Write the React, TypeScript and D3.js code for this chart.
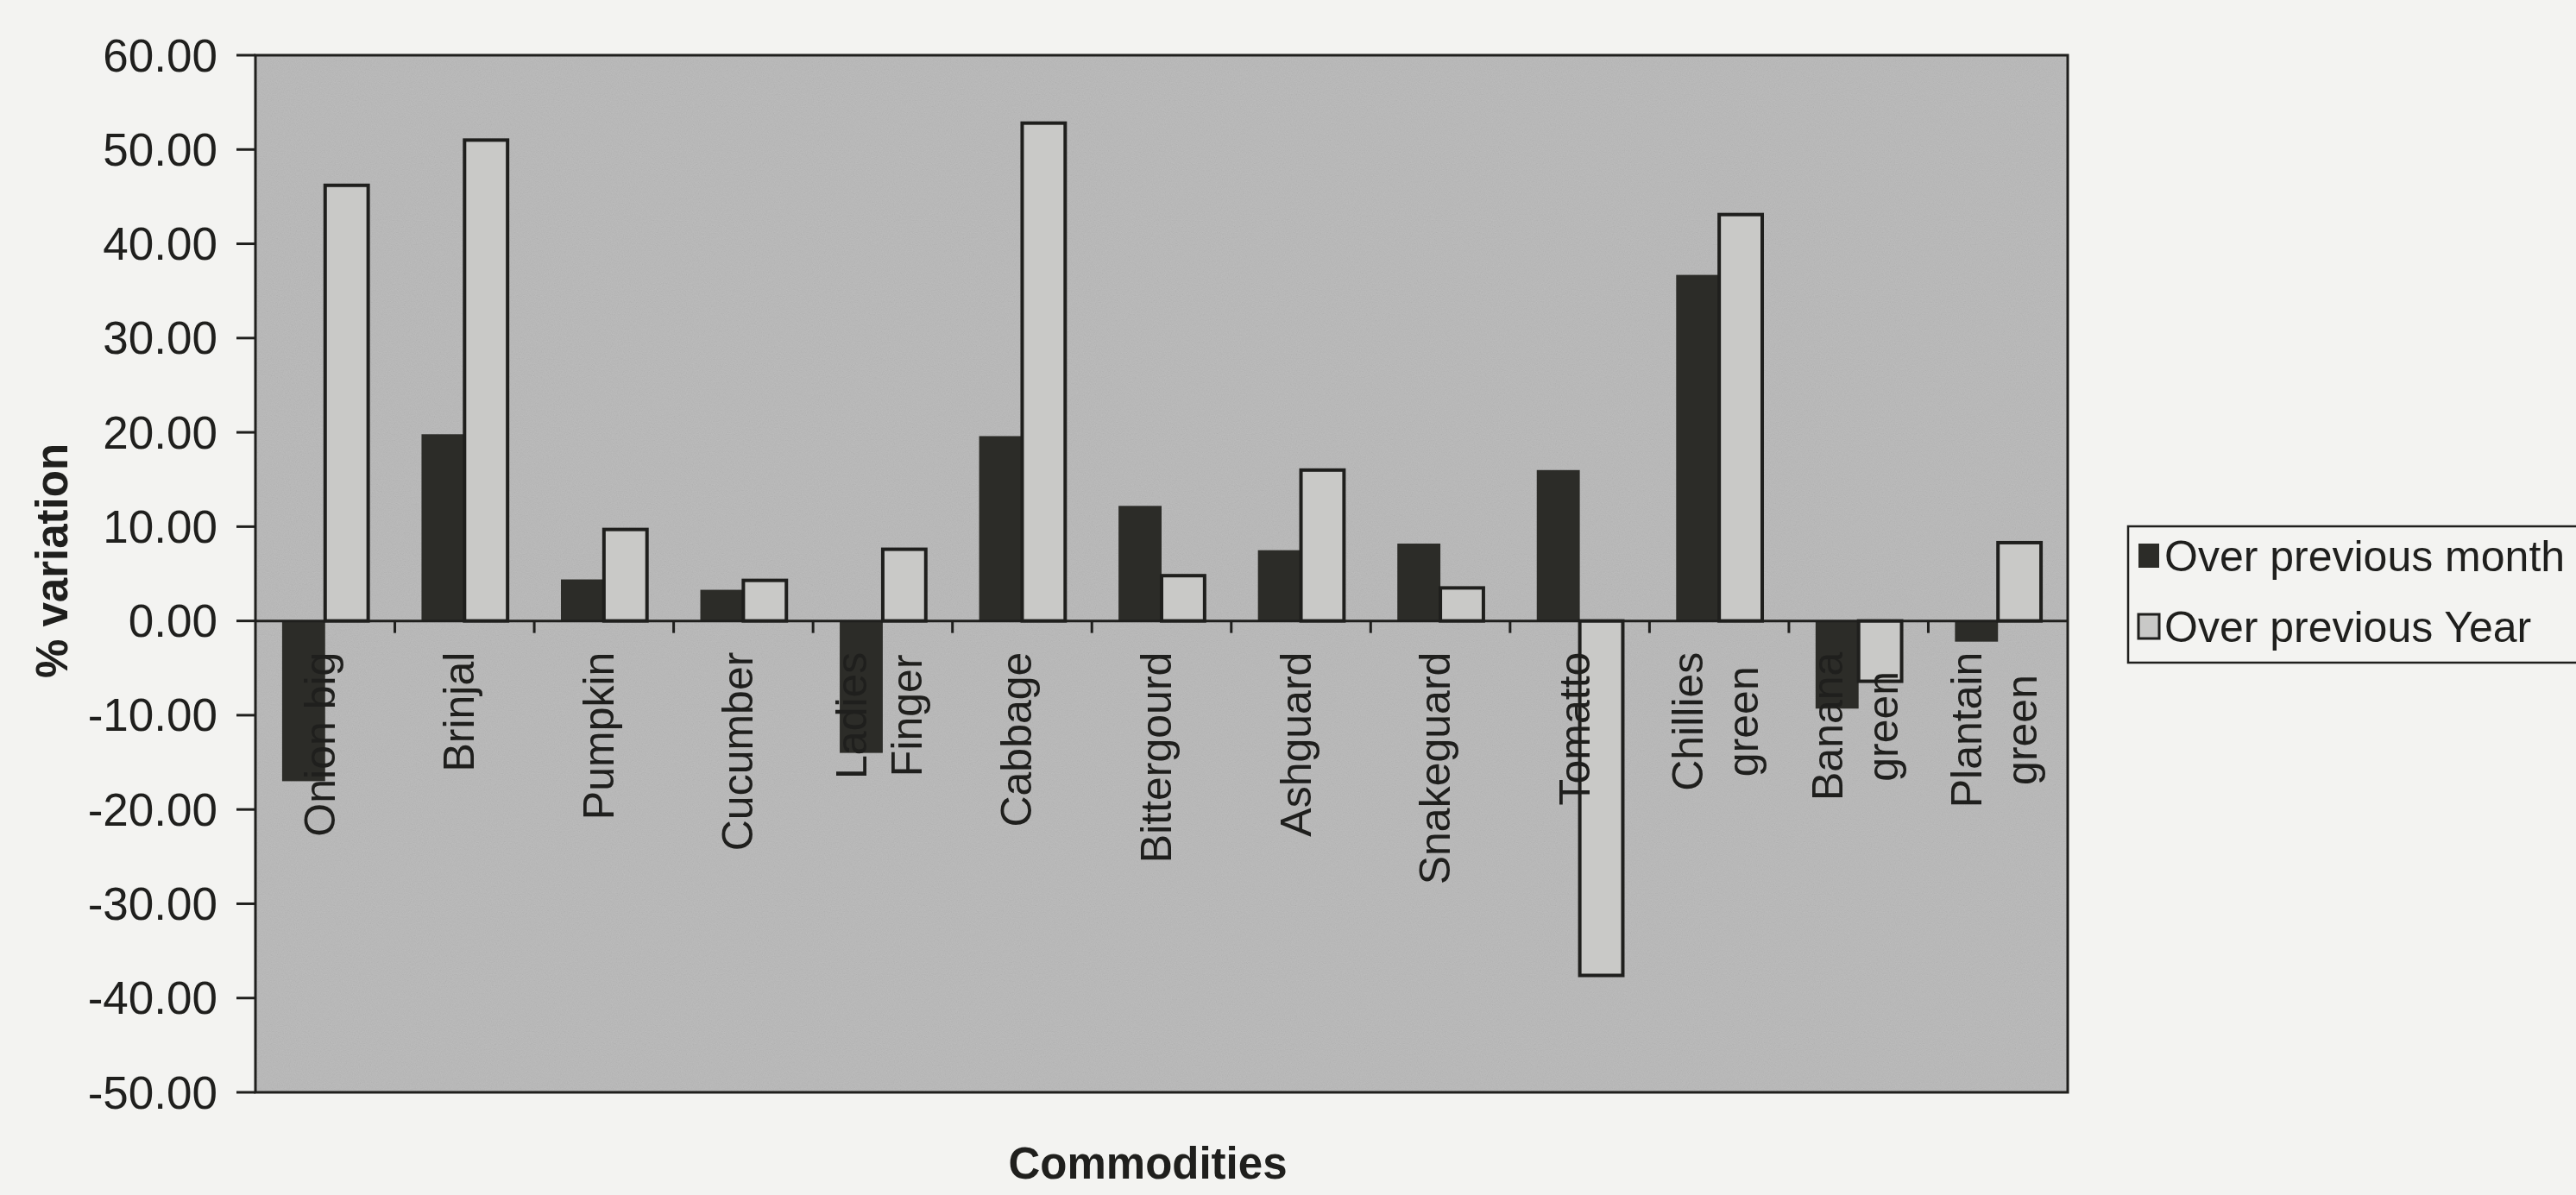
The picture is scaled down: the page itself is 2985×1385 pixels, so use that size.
import { useMemo } from "react";
import * as d3 from "d3";

const width = 2985;
const height = 1385;

// data
const categories = [
  "Onion big", "Brinjal", "Pumpkin", "Cucumber", "Ladies Finger", "Cabbage",
  "Bittergourd", "Ashguard", "Snakeguard", "Tomatto", "Chillies green",
  "Banana green", "Plantain green",
];
const labelLines = [
  ["Onion big"], ["Brinjal"], ["Pumpkin"], ["Cucumber"], ["Ladies", "Finger"], ["Cabbage"],
  ["Bittergourd"], ["Ashguard"], ["Snakeguard"], ["Tomatto"], ["Chillies", "green"],
  ["Banana", "green"], ["Plantain", "green"],
];
const seriesNames = ["Over previous month", "Over previous Year"];
const overPrevMonth = [-17, 19.8, 4.4, 3.3, -14, 19.6, 12.2, 7.5, 8.2, 16, 36.7, -9.3, -2.2];
const overPrevYear = [46.2, 51, 9.7, 4.3, 7.6, 52.8, 4.8, 16, 3.5, -37.6, 43.1, -6.4, 8.3];
const yTicks = [-50, -40, -30, -20, -10, 0, 10, 20, 30, 40, 50, 60];

const margin = { left: 296, right: 2396, top: 64, bottom: 1266 };
const font = '"Liberation Sans", Arial, sans-serif';
const ink = "#1f1f1d";
const darkFill = "#2c2c28";
const lightFill = "#c9c9c7";

const fmt = d3.formatLocale({ decimal: ".", thousands: ",", grouping: [3], currency: ["", ""], minus: "-" }).format(".2f");

const App = () => {
  const x0 = d3.scaleBand().domain(categories).range([margin.left, margin.right]).paddingInner(0).paddingOuter(0);
  const x1 = d3.scaleBand().domain(seriesNames).range([0, x0.bandwidth()]).paddingInner(0).paddingOuter(0.62);
  const y = d3.scaleLinear().domain([-50, 60]).range([margin.bottom, margin.top]);
  const zero = y(0);

  // measure label widths so the rotated labels sit just below the zero line
  const labelLen = useMemo(() => {
    const ctx = document.createElement("canvas").getContext("2d");
    ctx.font = `50px ${font}`;
    return labelLines.map(lines => d3.max(lines, s => ctx.measureText(s).width));
  }, []);

  const rows = categories.map((c, i) => ({ c, vals: [overPrevMonth[i], overPrevYear[i]] }));

  return (
    <svg width={width} height={height} style={{ display: "block", position: "absolute", left: 0, top: 0 }}>
      <style>{"body{margin:0}"}</style>
      <defs>
        <filter id="grain" x="0" y="0" width="100%" height="100%">
          <feTurbulence type="fractalNoise" baseFrequency="0.85" numOctaves="2" seed="4" />
          <feColorMatrix type="matrix" values="0.33 0.33 0.33 0 0  0.33 0.33 0.33 0 0  0.33 0.33 0.33 0 0  0 0 0 0 1" />
        </filter>
      </defs>
      <rect width={width} height={height} fill="#f3f3f1" />

      {/* plot area */}
      <rect x={margin.left} y={margin.top} width={margin.right - margin.left} height={margin.bottom - margin.top} fill="#b8b8b8" />
      <rect x={margin.left} y={margin.top} width={margin.right - margin.left} height={margin.bottom - margin.top} filter="url(#grain)" opacity={0.12} />

      {/* bars */}
      {rows.map(r => (
        <g key={r.c} transform={`translate(${x0(r.c)},0)`}>
          {r.vals.map((v, j) => {
            const yy = Math.min(y(v), zero);
            const h = Math.abs(y(v) - zero);
            return j === 0
              ? <rect key={j} x={x1(seriesNames[j])} y={yy} width={x1.bandwidth()} height={h} fill={darkFill} />
              : <rect key={j} x={x1(seriesNames[j])} y={yy} width={x1.bandwidth()} height={h} fill={lightFill} stroke={ink} strokeWidth={4} />;
          })}
        </g>
      ))}

      {/* zero line and category ticks */}
      <line x1={margin.left} x2={margin.right} y1={zero} y2={zero} stroke={ink} strokeWidth={3} />
      {categories.slice(1).map(c => (
        <line key={c} x1={x0(c)} x2={x0(c)} y1={zero} y2={zero + 14} stroke={ink} strokeWidth={3} />
      ))}

      {/* category labels */}
      {labelLines.map((lines, i) => {
        const cx = x0(categories[i]) + x0.bandwidth() / 2;
        const cy = zero + 36 + labelLen[i] / 2;
        return lines.map((s, k) => {
          const dx = lines.length === 1 ? -6 : (k - (lines.length - 1) / 2) * 64 - 4;
          return (
            <text key={i + "-" + k} transform={`translate(${cx + dx},${cy}) rotate(-90)`} textAnchor="middle"
              dominantBaseline="central" fontFamily={font} fontSize={50} fill={ink}>{s}</text>
          );
        });
      })}

      {/* plot border */}
      <rect x={margin.left} y={margin.top} width={margin.right - margin.left} height={margin.bottom - margin.top} fill="none" stroke={ink} strokeWidth={3} />

      {/* y axis */}
      {yTicks.map(t => (
        <g key={t}>
          <line x1={margin.left - 22} x2={margin.left} y1={y(t)} y2={y(t)} stroke={ink} strokeWidth={3} />
          <text x={margin.left - 44} y={y(t)} textAnchor="end" dominantBaseline="central" fontFamily={font} fontSize={53} fill={ink}>{fmt(t)}</text>
        </g>
      ))}
      <text transform={`translate(60,${(margin.top + margin.bottom) / 2 - 15}) rotate(-90)`} textAnchor="middle" dominantBaseline="central"
        fontFamily={font} fontSize={51} fontWeight="bold" fill={ink}>% variation</text>
      <text x={1330} y={1366} textAnchor="middle" fontFamily={font} fontSize={51} fontWeight="bold" fill={ink}>Commodities</text>

      {/* legend */}
      <rect x={2466} y={610} width={540} height={158} fill="none" stroke={ink} strokeWidth={2.5} />
      {seriesNames.map((s, j) => (
        <g key={s} transform={`translate(2478,${630 + j * 82})`}>
          <rect width={24} height={28} fill={j === 0 ? darkFill : lightFill} stroke={ink} strokeWidth={j === 0 ? 0 : 3} />
          <text x={30} y={15} dominantBaseline="central" fontFamily={font} fontSize={50} fill={ink}>{s}</text>
        </g>
      ))}
    </svg>
  );
};

export default App;
